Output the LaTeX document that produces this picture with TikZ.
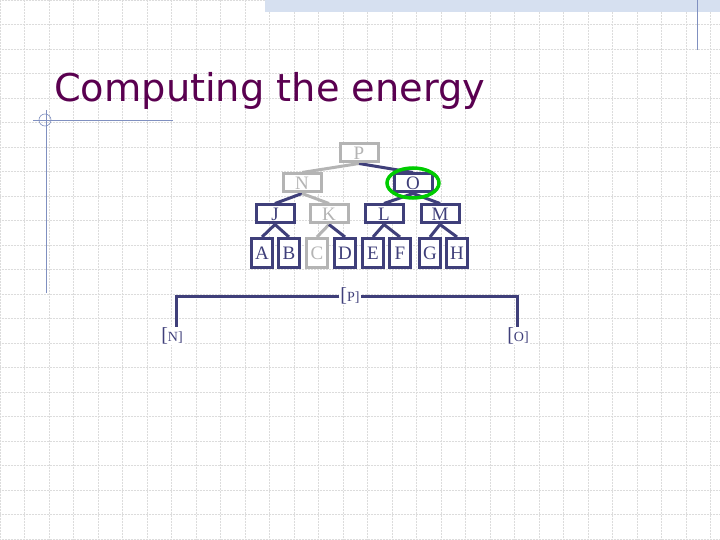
\documentclass[tikz,border=0pt]{standalone}
\usepackage{fontspec}
\setmainfont{Liberation Serif}
\newfontfamily\titlefont{DejaVu Sans}
\definecolor{navy}{HTML}{3F3F7A}
\definecolor{lgray}{HTML}{B4B4B4}
\definecolor{ttl}{HTML}{5A0050}
\definecolor{gridc}{HTML}{DCDCDC}
\definecolor{deco}{HTML}{8090C0}
\definecolor{band}{HTML}{D6E0F0}
\begin{document}
\begin{tikzpicture}[x=1pt,y=-1pt,
 nb/.style={draw=navy,line width=3pt,fill=white,text=navy,font=\fontsize{19}{19}\selectfont,inner sep=0pt},
 gb/.style={nb,draw=lgray,text=lgray},
 inner/.style={minimum width=38pt,minimum height=18pt},
 leaf/.style={minimum width=21pt,minimum height=29pt},
 ne/.style={draw=navy,line width=3pt},
 ge/.style={draw=lgray,line width=3pt},
 lab/.style={text=navy,font=\fontsize{20}{20}\selectfont,fill=white,inner sep=1pt}]
\useasboundingbox (0,0) rectangle (720,540);
\fill[white] (0,0) rectangle (720,540);
\foreach \i in {0,...,30} {\draw[gridc,densely dotted,line width=0.5pt] (\i*24.5,0) -- (\i*24.5,540);}
\foreach \j in {0,...,22} {\draw[gridc,densely dotted,line width=0.5pt] (0,\j*24.5) -- (720,\j*24.5);}
\fill[band] (265,0) rectangle (720,12);
\draw[deco,line width=0.8pt] (697,0) -- (697,50);
\draw[deco,line width=0.8pt] (33,120) -- (173,120);
\draw[deco,line width=0.8pt] (46,110) -- (46,293);
\draw[deco,line width=0.6pt] (45,120) circle (6);
\node[anchor=base west,text=ttl,inner sep=0pt] (title) at (54,102) {\resizebox{431pt}{!}{\titlefont\fontsize{42}{42}\selectfont Computing the energy}};
\node[gb,inner] (P) at (359,153) {P};
\node[gb,inner] (N) at (302,183) {N};
\node[nb,inner] (O) at (413,183) {O};
\node[nb,inner] (J) at (275,214) {J};
\node[gb,inner] (K) at (329,214) {K};
\node[nb,inner] (L) at (384,214) {L};
\node[nb,inner] (M) at (440,214) {M};
\node[nb,leaf] (A) at (262,253) {A};
\node[nb,leaf] (B) at (289,253) {B};
\node[gb,leaf] (C) at (317,253) {C};
\node[nb,leaf] (D) at (345,253) {D};
\node[nb,leaf] (E) at (373,253) {E};
\node[nb,leaf] (F) at (400,253) {F};
\node[nb,leaf] (G) at (430,253) {G};
\node[nb,leaf] (H) at (457,253) {H};
\draw[ge] (P.south) -- (N.north);
\draw[ne] (P.south) -- (O.north);
\draw[ne] (N.south) -- (J.north);
\draw[ge] (N.south) -- (K.north);
\draw[ne] (O.south) -- (L.north);
\draw[ne] (O.south) -- (M.north);
\draw[ne] (J.south) -- (A.north);
\draw[ne] (J.south) -- (B.north);
\draw[ge] (K.south) -- (C.north);
\draw[ne] (K.south) -- (D.north);
\draw[ne] (L.south) -- (E.north);
\draw[ne] (L.south) -- (F.north);
\draw[ne] (M.south) -- (G.north);
\draw[ne] (M.south) -- (H.north);
\node[gb,inner] at (359,153) {P};
\node[gb,inner] at (302,183) {N};
\node[nb,inner] at (413,183) {O};
\node[nb,inner] at (275,214) {J};
\node[gb,inner] at (329,214) {K};
\node[nb,inner] at (384,214) {L};
\node[nb,inner] at (440,214) {M};
\draw[green!80!black,line width=3.5pt] (O) ellipse (26 and 15);
\node[lab] (bp) at (350,296) {[\fontsize{14}{14}\selectfont P]};
\node[lab] (bn) at (172,336) {[\fontsize{14}{14}\selectfont N]};
\node[lab] (bo) at (518,336) {[\fontsize{14}{14}\selectfont O]};
\draw[ne] (bp.west) -- (176,296) -- (bn.north -| 176,0);
\draw[ne] (bp.east) -- (517,296) -- (bo.north -| 517,0);
\end{tikzpicture}
\end{document}
